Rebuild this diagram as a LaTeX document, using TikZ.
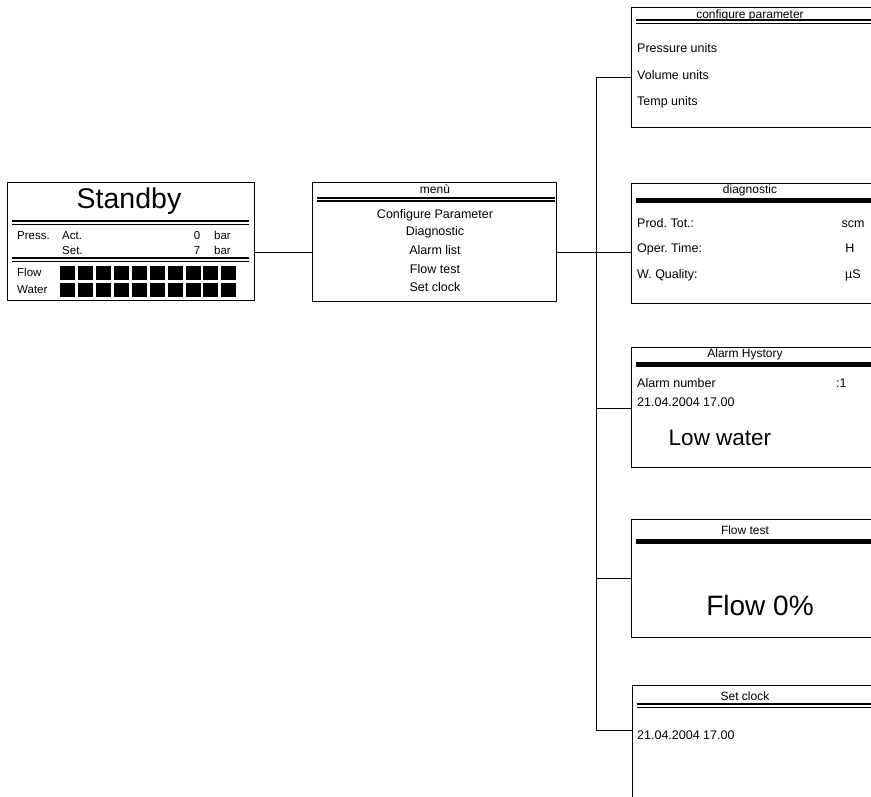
\documentclass[tikz,border=0pt]{standalone}
\usepackage{fontspec}
\setmainfont{Liberation Sans}
\frenchspacing
\begin{document}
\begin{tikzpicture}[x=1pt,y=-1pt,
  box/.style={draw,line width=1pt,inner sep=0pt,anchor=north west},
  sm/.style={font=\fontsize{12.5}{14}\selectfont,inner sep=0pt,text height=0.72em,text depth=0.2em,yshift=-1.2pt},
  st/.style={font=\fontsize{11.5}{13}\selectfont,inner sep=0pt,text height=0.72em,text depth=0.2em,yshift=-1.2pt},
  tl/.style={font=\fontsize{12}{14}\selectfont,inner sep=0pt,text height=0.72em,text depth=0.2em,yshift=-1.2pt},
  dthick/.style={line width=2pt},
  dthin/.style={line width=1.2pt},
  bar/.style={line width=5pt},
  sq/.style={fill=black,inner sep=0pt,minimum width=15pt,minimum height=14pt,anchor=north west},
  conn/.style={line width=1pt}]
\useasboundingbox (0,0) rectangle (871,796);
\clip (0,0) rectangle (871,796);
\fill[white] (0,0) rectangle (871,796);

% ---------- Standby box ----------
\node[box,minimum width=247pt,minimum height=118pt] (standby) at (7,182) {};
\node[inner sep=0pt,font=\fontsize{28.5}{31}\selectfont] (sbt) at (129,201) {Standby};
\draw[dthick] (12,221) -- (249,221);
\draw[dthin] (12,224.5) -- (249,224.5);
\node[st,anchor=west] (pr) at (17,236) {Press.};
\node[st,anchor=west] (act) at (62,236) {Act.};
\node[st] (v0) at (197,236) {0};
\node[st,anchor=west] (b1) at (214,236) {bar};
\node[st,anchor=west] (set) at (62,251) {Set.};
\node[st] (v7) at (197,251) {7};
\node[st,anchor=west] (b2) at (214,251) {bar};
\draw[dthick] (12,258) -- (249,258);
\draw[dthin] (12,261.5) -- (249,261.5);
\node[st,anchor=west] (fl) at (17,273) {Flow};
\node[st,anchor=west] (wa) at (17,290) {Water};
\foreach \i in {0,...,9} {
  \node[sq] (f\i) at (60+17.9*\i,266) {};
  \node[sq] (w\i) at (60+17.9*\i,283) {};
}

% ---------- menu box ----------
\node[box,minimum width=244pt,minimum height=119pt] (menu) at (312,182) {};
\node[tl] (mt) at (435,190) {menù};
\draw[dthick] (317,197.5) -- (555,197.5);
\draw[dthin] (317,201) -- (555,201);
\node[sm] (m1) at (435,215) {Configure Parameter};
\node[sm] (m2) at (435,232) {Diagnostic};
\node[sm] (m3) at (435,251) {Alarm list};
\node[sm] (m4) at (435,270) {Flow test};
\node[sm] (m5) at (435,288) {Set clock};

% ---------- right boxes ----------
\node[box,minimum width=260pt,minimum height=120pt] (cfg) at (631,7) {};
\node[tl] (cfgt) at (750,14.5) {configure parameter};
\draw[dthick] (636,20) -- (880,20);
\draw[dthin] (636,23.5) -- (880,23.5);
\node[sm,anchor=west] (c1) at (637,49) {Pressure units};
\node[sm,anchor=west] (c2) at (637,76) {Volume units};
\node[sm,anchor=west] (c3) at (637,102) {Temp units};

\node[box,minimum width=260pt,minimum height=120pt] (diag) at (631,183) {};
\node[tl] (diagt) at (750,190) {diagnostic};
\draw[bar] (636,200.5) -- (880,200.5);
\node[sm,anchor=west] (d1) at (637,224) {Prod. Tot.:};
\node[sm] (d1u) at (853,224) {scm};
\node[sm,anchor=west] (d2) at (637,249) {Oper. Time:};
\node[sm] (d2u) at (850,249) {H};
\node[sm,anchor=west] (d3) at (637,275) {W. Quality:};
\node[sm] (d3u) at (853,275) {µS};

\node[box,minimum width=260pt,minimum height=120pt] (alarm) at (631,347) {};
\node[tl] (alarmt) at (745,354) {Alarm Hystory};
\draw[bar] (636,364) -- (880,364);
\node[sm,anchor=west] (a1) at (637,384) {Alarm number};
\node[sm,anchor=west] (a1v) at (836,384) {:1};
\node[sm,anchor=west] (a2) at (637,403) {21.04.2004 17.00};
\node[inner sep=0pt,font=\fontsize{22.5}{26}\selectfont] (a3) at (720,438) {Low water};

\node[box,minimum width=260pt,minimum height=118pt] (flow) at (631,519) {};
\node[tl] (flowt) at (745,531) {Flow test};
\draw[bar] (636,541) -- (880,541);
\node[inner sep=0pt,font=\fontsize{28}{31}\selectfont] (fv) at (760,605) {Flow 0\%};

\node[box,minimum width=260pt,minimum height=130pt] (clock) at (632,685) {};
\node[tl] (clockt) at (745,697) {Set clock};
\draw[dthick] (637,704) -- (880,704);
\draw[dthin] (637,707.5) -- (880,707.5);
\node[sm,anchor=west] (cl1) at (637,736) {21.04.2004 17.00};

% ---------- connectors ----------
\coordinate (j) at (596,252);
\coordinate (t1) at (596,77);
\coordinate (t2) at (596,252);
\coordinate (t3) at (596,408);
\coordinate (t4) at (596,578);
\coordinate (t5) at (596,730);
\draw[conn] (standby.east |- j) -- (menu.west |- j);
\draw[conn] (menu.east |- j) -- (j);
\draw[conn] (t1) -- (t5);
\draw[conn] (t1) -- (cfg.west |- t1);
\draw[conn] (t2) -- (diag.west |- t2);
\draw[conn] (t3) -- (alarm.west |- t3);
\draw[conn] (t4) -- (flow.west |- t4);
\draw[conn] (t5) -- (clock.west |- t5);
\end{tikzpicture}
\end{document}
